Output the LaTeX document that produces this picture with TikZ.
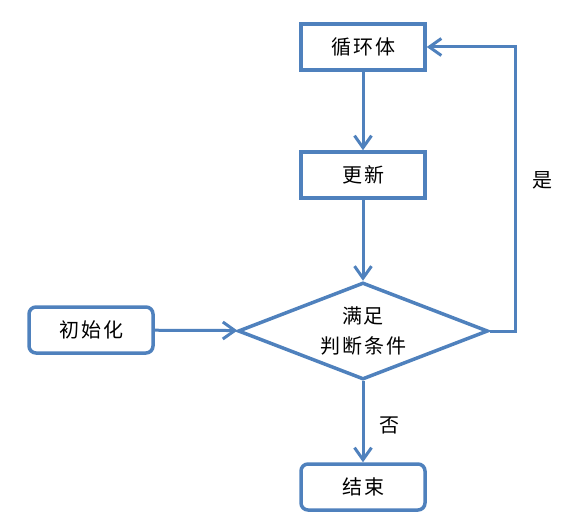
\documentclass[tikz,border=0pt]{standalone}
\usepackage{fontspec}
\setmainfont[LetterSpace=10]{Noto Sans CJK SC}
\usetikzlibrary{arrows.meta,positioning,shapes.geometric}

\definecolor{flowblue}{RGB}{79,129,189}

\begin{document}
\begin{tikzpicture}[
    x=1pt, y=-1pt,
    font=\fontsize{20}{30}\selectfont,
    block/.style={rectangle, draw=flowblue, line width=3.5pt, fill=white, minimum width=124pt, minimum height=46pt, inner sep=2pt},
    terminal/.style={block, rounded corners=7pt},
    decision/.style={diamond, draw=flowblue, line width=3.5pt, fill=white, aspect=2.53, minimum width=250pt, minimum height=97pt, inner sep=0pt, align=center},
    arrow/.style={draw=flowblue, line width=3pt, -{Straight Barb[length=12pt, width=17pt, line width=3pt]}},
    label/.style={inner sep=1pt}
  ]

  \useasboundingbox (0,0) rectangle (568,527);

  % Loop body and update
  \node[block] (body) at (363,47) {循环体};
  \node[block] (update) at (363,175) {更新};

  % Condition
  \node[decision] (cond) at (363,331) {满足\\判断条件};

  % Start and end
  \node[terminal] (init) at (91,330) {初始化};
  \node[terminal] (stop) at (363,487) {结束};

  % Edges
  \draw[arrow] (body) -- (update);
  \draw[arrow] (update) -- (cond);
  \draw[arrow] (init) -- (cond);
  \draw[arrow] (cond) -- node[pos=0.55, right=14pt, label] {否} (stop);

  % Back edge to the loop body
  \draw[arrow] (cond.east) -- ++(26,0) |- node[pos=0.265, right=14pt, label] {是} (body.east);

\end{tikzpicture}
\end{document}
